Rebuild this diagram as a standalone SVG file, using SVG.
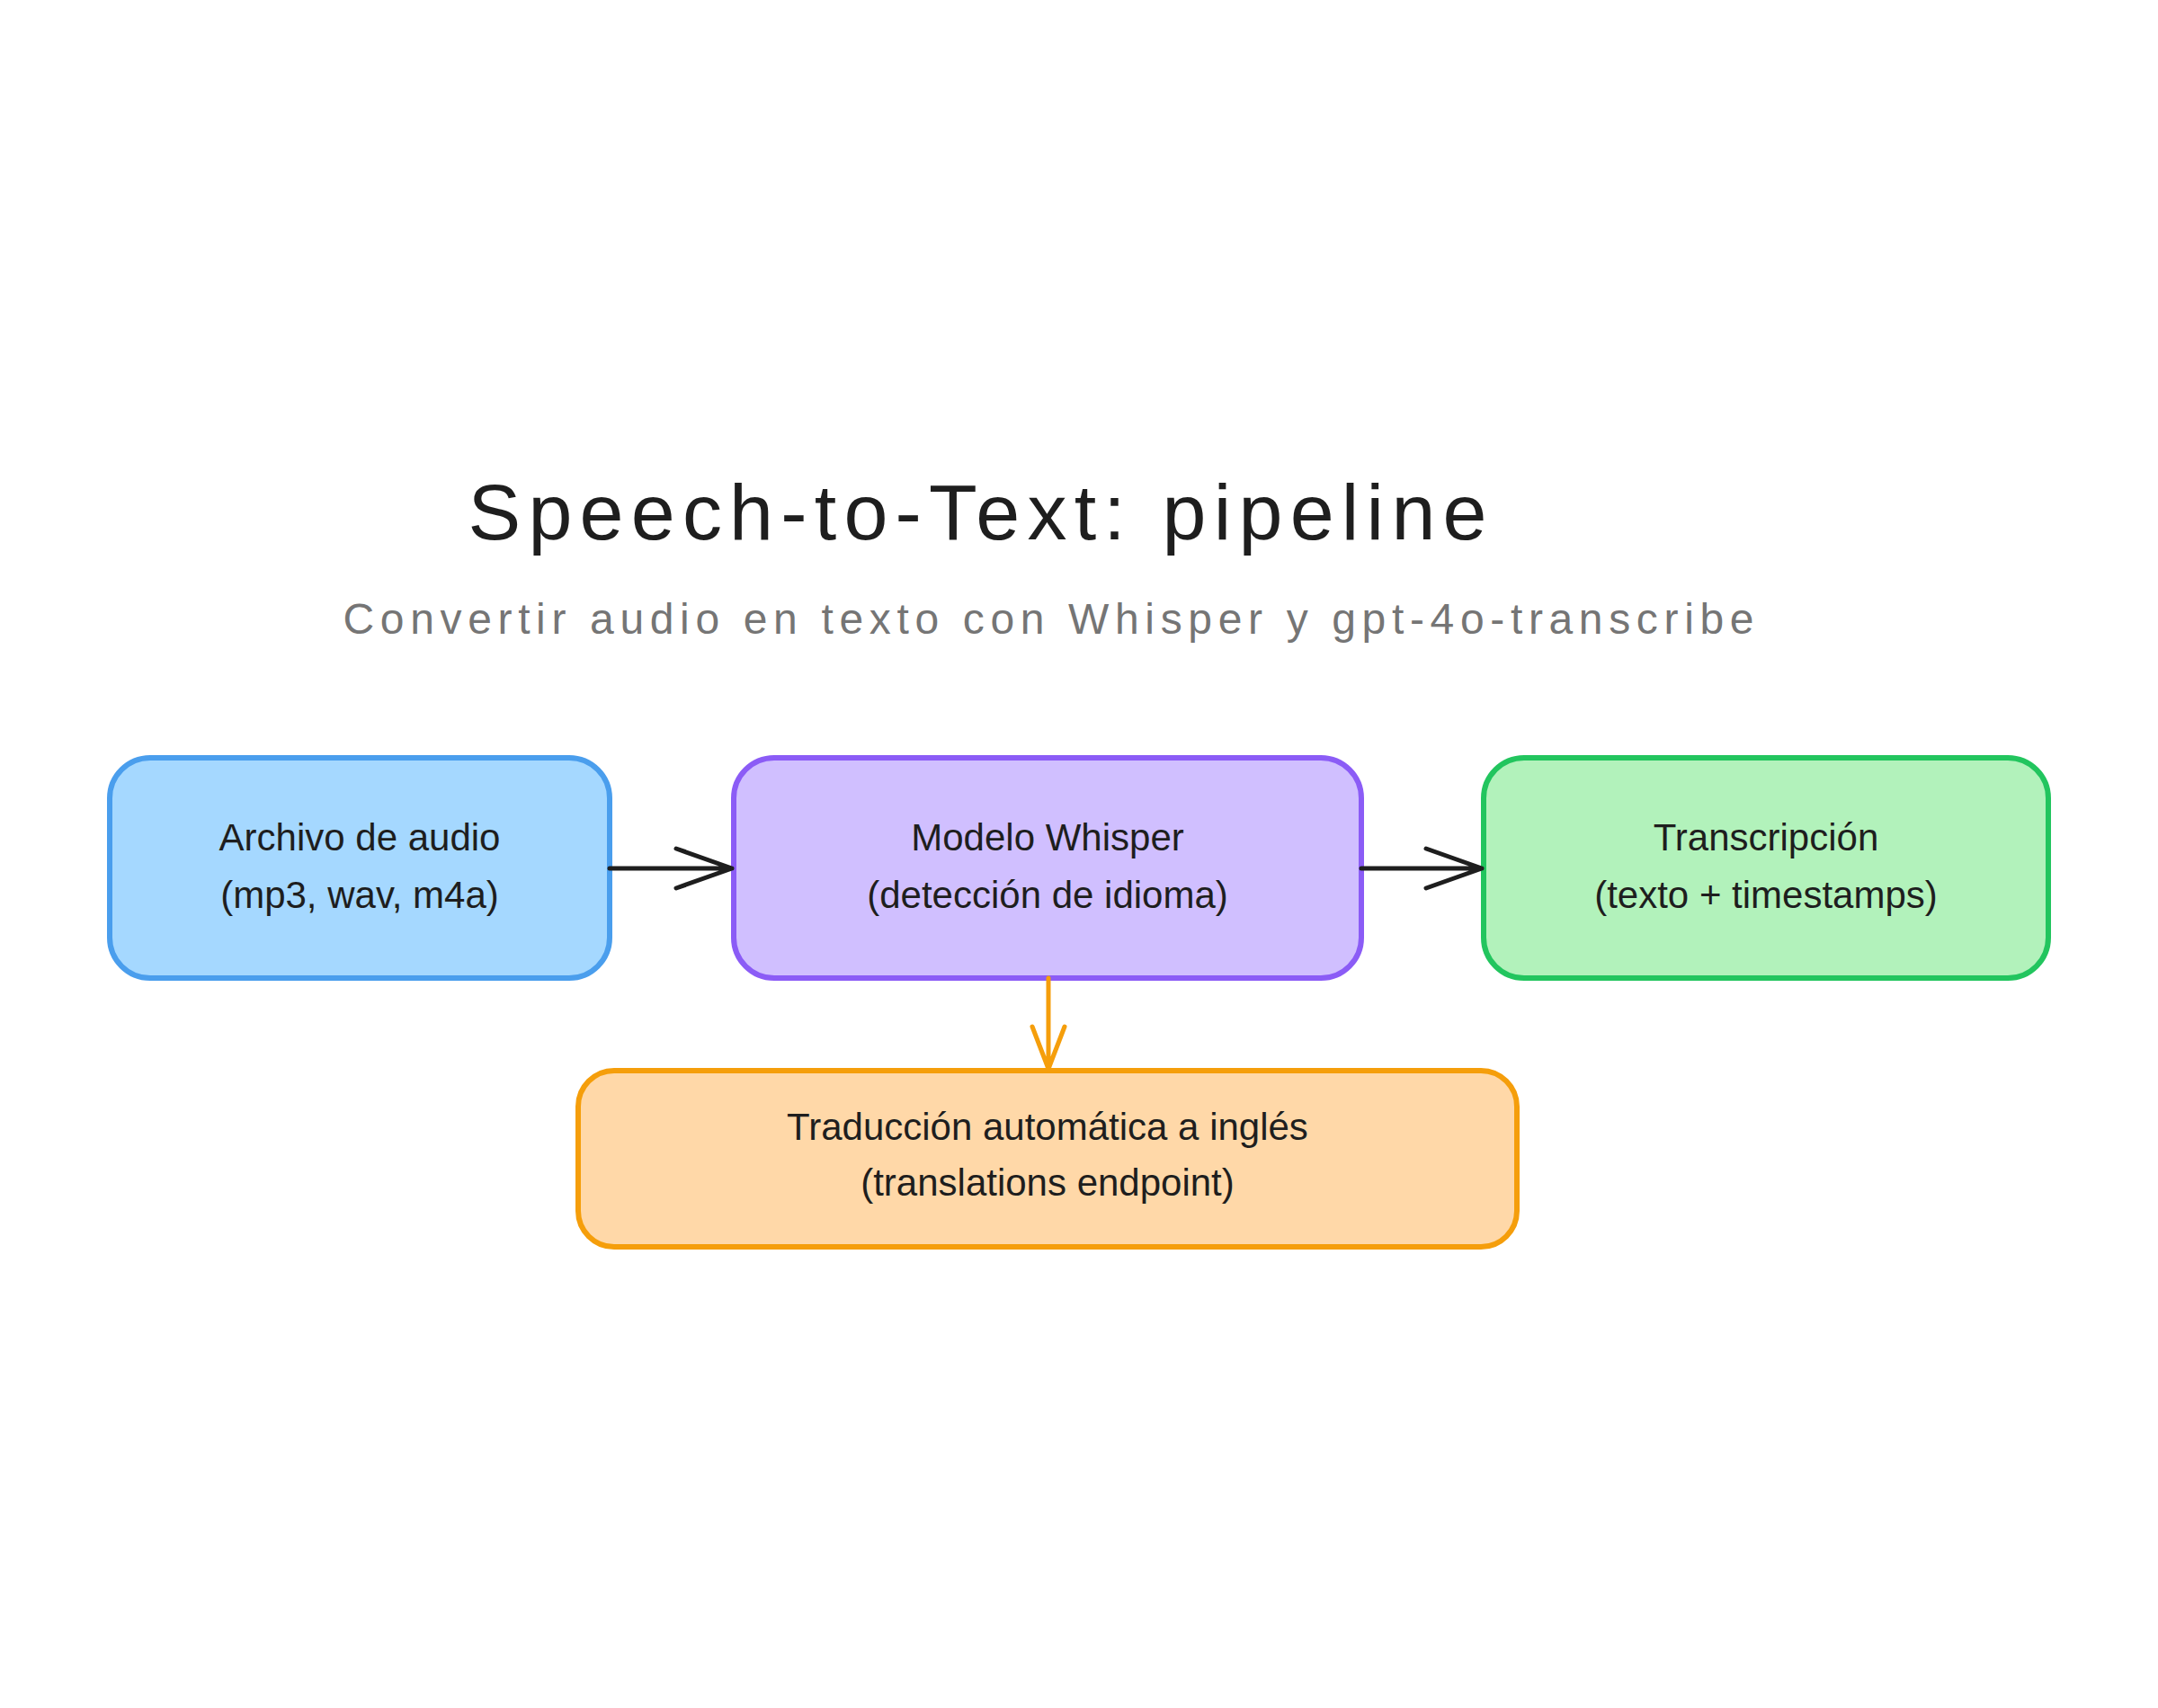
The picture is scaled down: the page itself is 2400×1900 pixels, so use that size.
<svg xmlns="http://www.w3.org/2000/svg" width="2400" height="1900" viewBox="0 0 2400 1900">
<style>
text{font-family:"Liberation Sans","DejaVu Sans",sans-serif;text-anchor:middle;fill:#1e1e1e}
.lbl{font-size:42px}
.box{stroke-width:6}
.conn{fill:none;stroke-width:5;stroke-linecap:round;stroke-linejoin:round}
</style>
<rect width="2400" height="1900" fill="#ffffff"/>
<text x="1087" y="600" font-size="88" textLength="1133" lengthAdjust="spacing">Speech-to-Text: pipeline</text>
<text x="1166" y="705" font-size="48" textLength="1569" lengthAdjust="spacing" style="fill:#757575">Convertir audio en texto con Whisper y gpt-4o-transcribe</text>
<g id="audio">
<rect class="box" x="122" y="843" width="556" height="245" rx="45" fill="#a5d8ff" stroke="#4a9eed"/>
<text class="lbl" x="400" y="946">Archivo de audio</text>
<text class="lbl" x="400" y="1010">(mp3, wav, m4a)</text>
</g>
<g id="whisper">
<rect class="box" x="816" y="843" width="698" height="245" rx="45" fill="#d0bfff" stroke="#8b5cf6"/>
<text class="lbl" x="1165" y="946">Modelo Whisper</text>
<text class="lbl" x="1165" y="1010">(detección de idioma)</text>
</g>
<g id="transcripcion">
<rect class="box" x="1650" y="843" width="628" height="245" rx="45" fill="#b2f2bb" stroke="#22c55e"/>
<text class="lbl" x="1964" y="946">Transcripción</text>
<text class="lbl" x="1964" y="1010">(texto + timestamps)</text>
</g>
<g id="traduccion">
<rect class="box" x="643" y="1191" width="1044" height="196" rx="40" fill="#ffd8a8" stroke="#f59e0b"/>
<text class="lbl" x="1165" y="1268">Traducción automática a inglés</text>
<text class="lbl" x="1165" y="1330">(translations endpoint)</text>
</g>
<g id="connectors">
<path class="conn" stroke="#1e1e1e" d="M678 966 L814 966 M752 944 L814 966 L752 988"/>
<path class="conn" stroke="#1e1e1e" d="M1514 966 L1648 966 M1586 944 L1648 966 L1586 988"/>
<path class="conn" stroke="#f59e0b" d="M1166 1088 L1166 1189 M1148 1142 L1166 1189 L1184 1142"/>
</g>
</svg>
